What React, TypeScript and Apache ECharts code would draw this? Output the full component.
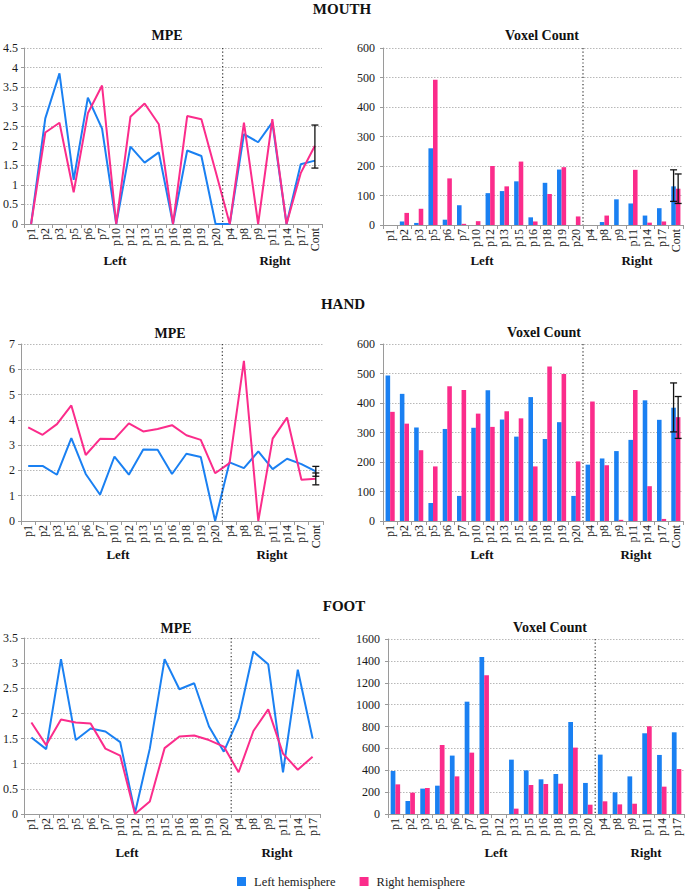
import React, { useEffect, useRef } from 'react';
import * as echarts from 'echarts';

const CATEGORIES = ['p1', 'p2', 'p3', 'p5', 'p6', 'p7', 'p10', 'p12', 'p13', 'p15', 'p16', 'p18', 'p19', 'p20', 'p4', 'p8', 'p9', 'p11', 'p14', 'p17', 'Cont'];
const FOOT_CATEGORIES = ['p1', 'p2', 'p3', 'p5', 'p6', 'p7', 'p10', 'p12', 'p13', 'p15', 'p16', 'p18', 'p19', 'p20', 'p4', 'p8', 'p9', 'p11', 'p14', 'p17'];
const LEFT_COUNT = 14;

const mouthMpeLeft = [0, 2.70, 3.85, 1.13, 3.23, 2.44, 0, 1.98, 1.57, 1.83, 0, 1.88, 1.74, 0, 0, 2.30, 2.09, 2.60, 0, 1.53, 1.62];
const mouthMpeRight = [0, 2.34, 2.59, 0.81, 2.83, 3.54, 0, 2.74, 3.08, 2.55, 0, 2.76, 2.68, 1.35, 0, 2.59, 0, 2.68, 0, 1.30, 2.00];
const mouthVoxLeft = [0, 12, 7, 260, 18, 67, 0, 108, 115, 148, 26, 143, 188, 0, 0, 10, 87, 73, 32, 57, 131];
const mouthVoxRight = [0, 41, 55, 492, 158, 4, 13, 200, 131, 215, 12, 105, 196, 29, 0, 32, 0, 187, 8, 12, 123];

const handMpeLeft = [2.18, 2.18, 1.83, 3.28, 1.86, 1.04, 2.55, 1.83, 2.83, 2.82, 1.86, 2.66, 2.53, 0, 2.32, 2.09, 2.75, 2.05, 2.46, 2.25, 1.96];
const handMpeRight = [3.70, 3.41, 3.83, 4.57, 2.61, 3.25, 3.24, 3.86, 3.54, 3.64, 3.79, 3.39, 3.21, 1.89, 2.29, 6.33, 0, 3.26, 4.09, 1.63, 1.67];
const handVoxLeft = [493, 431, 317, 61, 312, 85, 316, 443, 344, 286, 420, 278, 335, 85, 191, 212, 237, 275, 409, 343, 384];
const handVoxRight = [370, 330, 240, 185, 457, 444, 364, 319, 372, 348, 185, 524, 498, 202, 405, 189, 4, 444, 118, 7, 352];

const footMpeLeft = [1.52, 1.29, 3.08, 1.47, 1.70, 1.64, 1.43, 0.02, 1.30, 3.08, 2.48, 2.60, 1.74, 1.24, 1.90, 3.23, 2.98, 0.83, 2.87, 1.50];
const footMpeRight = [1.82, 1.37, 1.88, 1.82, 1.80, 1.30, 1.16, 0, 0.25, 1.31, 1.54, 1.56, 1.47, 1.34, 0.83, 1.65, 2.08, 1.20, 0.88, 1.14];
const footVoxLeft = [393, 119, 232, 259, 534, 1027, 1436, 0, 497, 399, 317, 366, 841, 284, 543, 198, 344, 738, 540, 747];
const footVoxRight = [271, 195, 238, 631, 344, 561, 1268, 0, 49, 265, 274, 277, 607, 85, 116, 88, 94, 802, 250, 411];

// error bars: [category index, low, high]
const mouthMpeErrCenter = [[20, 1.43, 2.53]];
const mouthVoxErrLeft = [[20, 80, 187]];
const mouthVoxErrRight = [[20, 73, 173]];
const handMpeErrLeft = [[20, 1.77, 2.16]];
const handMpeErrRight = [[20, 1.43, 1.90]];
const handVoxErrLeft = [[20, 302, 468]];
const handVoxErrRight = [[20, 280, 422]];

const SECTION_TITLES = ['MOUTH', 'HAND', 'FOOT'];
const SERIES_NAMES = ['Left hemisphere', 'Right hemisphere'];

const BLUE = '#1a80f2';
const PINK = '#fb2c8b';
const AXIS = '#9a9a9a';
const FONT = 'Liberation Serif, Times New Roman, serif';

type Panel = {
  kind: 'line' | 'bar';
  cats: string[];
  left: number[];
  right: number[];
  yMax: number;
  yInterval: number;
  grid: { left: number; top: number; width: number; height: number };
  labelMargin: number;
  errCenter?: number[][];
  errLeft?: number[][];
  errRight?: number[][];
  title: string;
  titlePos: [number, number];
  sidePos: [number, number, number];
};

const PANELS: Panel[] = [
  { kind: 'line', cats: CATEGORIES, left: mouthMpeLeft, right: mouthMpeRight, yMax: 4.5, yInterval: 0.5,
    grid: { left: 22, top: 48, width: 300, height: 176 }, labelMargin: 6, errCenter: mouthMpeErrCenter,
    title: 'MPE', titlePos: [167, 35], sidePos: [115, 275, 260] },
  { kind: 'bar', cats: CATEGORIES, left: mouthVoxLeft, right: mouthVoxRight, yMax: 600, yInterval: 100,
    grid: { left: 383, top: 48, width: 300, height: 177 }, labelMargin: 8, errLeft: mouthVoxErrLeft, errRight: mouthVoxErrRight,
    title: 'Voxel Count', titlePos: [542, 35], sidePos: [482, 637, 260] },
  { kind: 'line', cats: CATEGORIES, left: handMpeLeft, right: handMpeRight, yMax: 7, yInterval: 1,
    grid: { left: 21, top: 344, width: 302, height: 177 }, labelMargin: 6, errLeft: handMpeErrLeft, errRight: handMpeErrRight,
    title: 'MPE', titlePos: [170, 333], sidePos: [118, 272, 554] },
  { kind: 'bar', cats: CATEGORIES, left: handVoxLeft, right: handVoxRight, yMax: 600, yInterval: 100,
    grid: { left: 383, top: 344, width: 300, height: 177 }, labelMargin: 8, errLeft: handVoxErrLeft, errRight: handVoxErrRight,
    title: 'Voxel Count', titlePos: [544, 332], sidePos: [482, 636, 554] },
  { kind: 'line', cats: FOOT_CATEGORIES, left: footMpeLeft, right: footMpeRight, yMax: 3.5, yInterval: 0.5,
    grid: { left: 22, top: 638, width: 298, height: 176 }, labelMargin: 6,
    title: 'MPE', titlePos: [176, 628], sidePos: [127, 277, 852] },
  { kind: 'bar', cats: FOOT_CATEGORIES, left: footVoxLeft, right: footVoxRight, yMax: 1600, yInterval: 200,
    grid: { left: 388, top: 639, width: 296, height: 175 }, labelMargin: 8,
    title: 'Voxel Count', titlePos: [550, 627], sidePos: [496, 646, 852] },
];

const SECTION_POS: [number, number][] = [[342, 9], [343, 304], [344, 606]];

function textEl(text: string, x: number, y: number, size: number, bold: boolean) {
  return {
    type: 'text',
    x,
    y,
    silent: true,
    style: {
      text,
      fill: '#111',
      fontSize: size,
      fontWeight: bold ? 'bold' : 'normal',
      fontFamily: FONT,
      align: 'center',
      verticalAlign: 'middle',
      textAlign: 'center',
      textVerticalAlign: 'middle',
    },
  };
}

function errSeries(i: number, data: number[][], sign: number, barHalf: boolean) {
  return {
    type: 'custom',
    name: 'err',
    xAxisIndex: i,
    yAxisIndex: i,
    z: 10,
    silent: true,
    data: data.map((d) => [d[0], d[1], d[2], sign]),
    renderItem: (params: any, api: any) => {
      const band = api.size([1, 0])[0];
      const off = barHalf ? api.value(3) * band * 0.16 : api.value(3) * band * 0.1;
      const lo = api.coord([api.value(0), api.value(1)]);
      const hi = api.coord([api.value(0), api.value(2)]);
      const x = lo[0] + off;
      const cap = 3.5;
      const st = { stroke: '#111', lineWidth: 1.3 };
      return {
        type: 'group',
        children: [
          { type: 'line', shape: { x1: x, y1: lo[1], x2: x, y2: hi[1] }, style: st },
          { type: 'line', shape: { x1: x - cap, y1: lo[1], x2: x + cap, y2: lo[1] }, style: st },
          { type: 'line', shape: { x1: x - cap, y1: hi[1], x2: x + cap, y2: hi[1] }, style: st },
        ],
      };
    },
  };
}

export default function App() {
  const ref = useRef<HTMLDivElement>(null);

  useEffect(() => {
    if (!ref.current) return;
    const chart = echarts.init(ref.current, undefined, { renderer: 'svg' });

    const grids: any[] = [];
    const xAxes: any[] = [];
    const yAxes: any[] = [];
    const series: any[] = [];
    const graphics: any[] = [];

    SECTION_TITLES.forEach((t, k) => {
      graphics.push(textEl(t, SECTION_POS[k][0], SECTION_POS[k][1], 15, true));
    });

    PANELS.forEach((p, i) => {
      grids.push({ ...p.grid, containLabel: false });
      xAxes.push({
        type: 'category',
        gridIndex: i,
        data: p.cats,
        boundaryGap: true,
        axisLine: { show: true, lineStyle: { color: AXIS, width: 1 } },
        axisTick: { show: true, interval: 0, length: 4, lineStyle: { color: AXIS } },
        axisLabel: { interval: 0, rotate: 90, margin: 4, fontSize: 12, fontFamily: FONT, color: '#1a1a1a' },
        splitLine: { show: false },
      });
      yAxes.push({
        type: 'value',
        gridIndex: i,
        min: 0,
        max: p.yMax,
        interval: p.yInterval,
        axisLine: { show: true, lineStyle: { color: AXIS, width: 1 } },
        axisTick: { show: true, length: 3, lineStyle: { color: AXIS } },
        axisLabel: {
          margin: p.labelMargin,
          fontSize: 12,
          fontFamily: FONT,
          color: '#1a1a1a',
          formatter: (v: number) => String(v),
        },
        splitLine: { show: true, lineStyle: { type: [1.5, 1.5], color: '#b8b8b8', width: 1 } },
      });

      const vals = [p.left, p.right];
      const colors = [BLUE, PINK];
      vals.forEach((v, s) => {
        if (p.kind === 'line') {
          series.push({
            type: 'line',
            name: SERIES_NAMES[s],
            xAxisIndex: i,
            yAxisIndex: i,
            data: v,
            symbol: 'none',
            silent: true,
            z: s === 0 ? 3 : 4,
            lineStyle: { width: 2, color: colors[s] },
            itemStyle: { color: colors[s] },
          });
        } else {
          series.push({
            type: 'bar',
            name: SERIES_NAMES[s],
            xAxisIndex: i,
            yAxisIndex: i,
            data: v,
            barWidth: '32%',
            barGap: '0%',
            silent: true,
            itemStyle: { color: colors[s] },
          });
        }
      });

      // separator between Left and Right groups
      series.push({
        type: 'custom',
        name: 'sep',
        xAxisIndex: i,
        yAxisIndex: i,
        silent: true,
        z: 5,
        data: [[LEFT_COUNT, 0]],
        renderItem: (params: any, api: any) => {
          const cs = params.coordSys;
          const x = api.coord([api.value(0), 0])[0] - api.size([1, 0])[0] / 2;
          return {
            type: 'line',
            shape: { x1: x, y1: cs.y, x2: x, y2: cs.y + cs.height },
            style: { stroke: '#333', lineWidth: 1.2, lineDash: [1.2, 2.4] },
          };
        },
      });

      const isBar = p.kind === 'bar';
      if (p.errCenter) series.push(errSeries(i, p.errCenter, 0, isBar));
      if (p.errLeft) series.push(errSeries(i, p.errLeft, isBar ? -1 : 0, isBar));
      if (p.errRight) series.push(errSeries(i, p.errRight, isBar ? 1 : 0, isBar));

      graphics.push(textEl(p.title, p.titlePos[0], p.titlePos[1], 14, true));
      graphics.push(textEl('Left', p.sidePos[0], p.sidePos[2], 13, true));
      graphics.push(textEl('Right', p.sidePos[1], p.sidePos[2], 13, true));
    });

    chart.setOption({
      animation: false,
      backgroundColor: '#ffffff',
      textStyle: { fontFamily: FONT },
      grid: grids,
      xAxis: xAxes,
      yAxis: yAxes,
      series,
      graphic: graphics,
      legend: {
        data: [
          { name: SERIES_NAMES[0], itemStyle: { color: BLUE } },
          { name: SERIES_NAMES[1], itemStyle: { color: PINK } },
        ],
        top: 875,
        left: 237,
        padding: 0,
        icon: 'rect',
        itemWidth: 9,
        itemHeight: 9,
        itemGap: 24,
        selectedMode: false,
        textStyle: { fontFamily: FONT, fontSize: 12.5, color: '#222', padding: [0, 0, 0, 3] },
      },
    });

    return () => {
      chart.dispose();
    };
  }, []);

  return (
    <div
      ref={ref}
      style={{ position: 'fixed', left: 0, top: 0, width: 685, height: 891, background: '#fff' }}
    />
  );
}
